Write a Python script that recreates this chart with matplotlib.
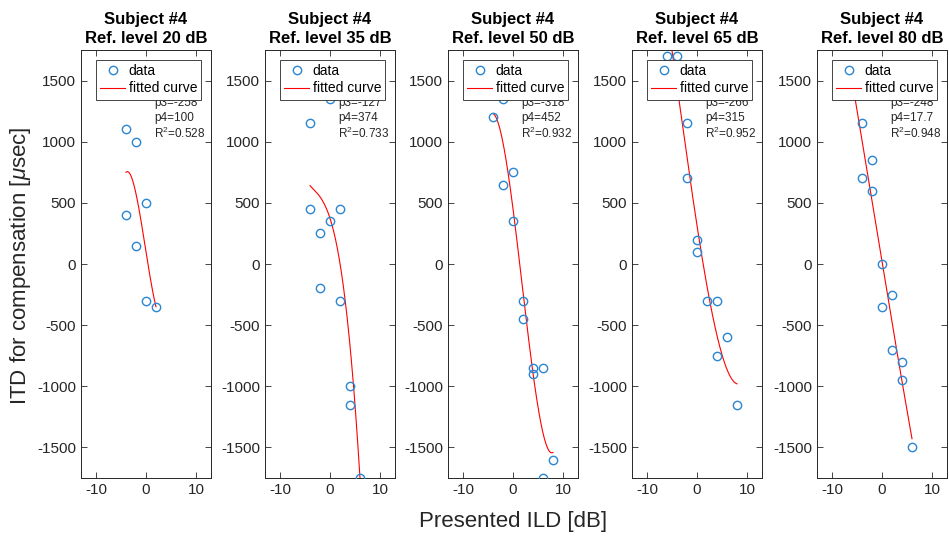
import numpy as np
import matplotlib
matplotlib.use("Agg")
import matplotlib.pyplot as plt

plt.rcParams["font.family"] = ["Liberation Sans", "DejaVu Sans"]
plt.rcParams["mathtext.fontset"] = "custom"
plt.rcParams["mathtext.rm"] = "Liberation Sans"
plt.rcParams["mathtext.it"] = "Liberation Sans:italic"
plt.rcParams["axes.unicode_minus"] = False

# Reference levels (dB) for each panel
ref_levels = [20, 35, 50, 65, 80]

# Presented ILD [dB] and ITD needed for compensation [usec]
ild_20 = [-4, -2, 0, -4, -2, 0, 2]
itd_20 = [1100, 1000, 500, 400, 150, -300, -350]

ild_35 = [0, -4, -4, 2, 0, -2, -2, 2, 4, 4, 6]
itd_35 = [1350, 1150, 450, 450, 350, 250, -200, -300, -1000, -1150, -1750]

ild_50 = [-2, -4, 0, -2, 0, 2, 2, 4, 6, 4, 8, 6]
itd_50 = [1350, 1200, 750, 650, 350, -300, -450, -850, -850, -900, -1600, -1750]

ild_65 = [-6, -4, -2, -2, 0, 0, 2, 4, 6, 4, 8]
itd_65 = [1700, 1700, 1150, 700, 200, 100, -300, -300, -600, -750, -1150]

ild_80 = [-4, -2, -4, -2, 0, 2, 0, 2, 4, 4, 6]
itd_80 = [1150, 850, 700, 600, 0, -250, -350, -700, -800, -950, -1500]

ild_data = [ild_20, ild_35, ild_50, ild_65, ild_80]
itd_data = [itd_20, itd_35, itd_50, itd_65, itd_80]

# Cubic fit coefficients: itd = p1*x^3 + p2*x^2 + p3*x + p4
p1 = [6.73, -2.28, 3.29, 0.693, 0.1]
p2 = [3.04, -24.2, -17.7, 7.47, 0.55]
p3 = [-258, -127, -318, -266, -248]
p4 = [100, 374, 452, 315, 17.7]
r_squared = [0.528, 0.733, 0.932, 0.952, 0.948]

# ILD span covered by each fitted curve
fit_lo = [-4, -4, -4, -6, -6]
fit_hi = [2, 6, 8, 8, 6]

x_ticks = [-10, 0, 10]
y_ticks = [-1500, -1000, -500, 0, 500, 1000, 1500]

W, H = 949, 540
fig = plt.figure(figsize=(W / 100, H / 100), dpi=100)

ax_left_px = [81, 265, 448, 632, 817]
ax_w_px = 130
ax_top_px, ax_bot_px = 50, 478

data_color = "#2a86d2"
ink = "0.15"


def fmt3(v):
    return f"{v:.3g}"


for i in range(5):
    ax = fig.add_axes([ax_left_px[i] / W, 1 - ax_bot_px / H,
                       ax_w_px / W, (ax_bot_px - ax_top_px) / H])
    ax.plot(ild_data[i], itd_data[i], "o", mfc="none", mec=data_color,
            mew=1.0, ms=6, label="data", zorder=3)
    xs = np.linspace(fit_lo[i], fit_hi[i], 200)
    ys = np.polyval([p1[i], p2[i], p3[i], p4[i]], xs)
    ax.plot(xs, ys, "-", color="red", lw=0.8, label="fitted curve", zorder=2)

    ax.set_xlim(-13, 13)
    ax.set_ylim(-1750, 1750)
    ax.set_xticks(x_ticks)
    ax.set_yticks(y_ticks)
    ax.tick_params(direction="in", top=True, right=True, length=4,
                   width=0.6, colors=ink, labelsize=11, labelcolor=ink)
    for s in ax.spines.values():
        s.set_color(ink)
        s.set_linewidth(0.7)
    ax.set_title(f"Subject #4\nRef. level {ref_levels[i]} dB",
                 fontsize=12, fontweight="bold", pad=5, linespacing=1.35)

    # fit parameters below the legend (p1, p2 sit under the legend box)
    lines = [f"p3={fmt3(p3[i])}", f"p4={fmt3(p4[i])}",
             f"R$^{{2}}$={fmt3(r_squared[i])}"]
    for k, txt in enumerate(lines):
        py = 103 + 15 * k
        ax.text(0.565, 1 - (py - ax_top_px) / (ax_bot_px - ax_top_px), txt,
                transform=ax.transAxes, fontsize=8.5, color=ink,
                va="center", ha="left", zorder=1)

    leg = ax.legend(loc="upper right", fontsize=10, frameon=True,
                    fancybox=False, framealpha=1, edgecolor=ink,
                    borderaxespad=0.7, borderpad=0.3, labelspacing=0.25,
                    handlelength=1.8, handletextpad=0.25, numpoints=1)
    leg.get_frame().set_linewidth(0.6)
    leg.set_zorder(5)

fig.text(21 / W, 1 - 266 / H, r"ITD for compensation [$\mu$sec]", rotation=90,
         fontsize=16, color=ink, ha="center", va="center")
fig.text(513 / W, 1 - 522 / H, "Presented ILD [dB]", fontsize=16,
         color=ink, ha="center", va="center")

fig.savefig("out.png", dpi=100, facecolor="white")
